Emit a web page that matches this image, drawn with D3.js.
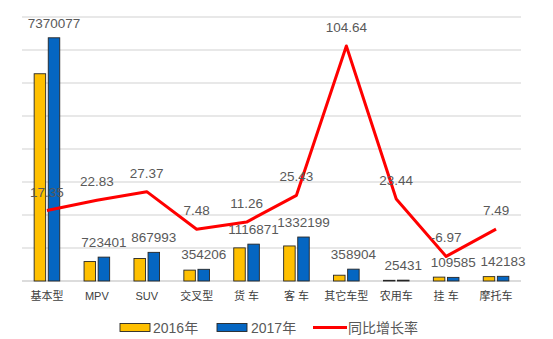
<!DOCTYPE html>
<html><head><meta charset="utf-8">
<script src="https://cdn.jsdelivr.net/npm/d3@7"></script>
<style>
html,body{margin:0;padding:0;background:#fff;}
svg text{font-family:"Liberation Sans","Noto Sans CJK SC",sans-serif;}
</style></head>
<body><svg id="c" width="553" height="339"></svg>
<script>
const categories = ["基本型","MPV","SUV","交叉型","货 车","客 车","其它车型","农用车","挂 车","摩托车"];
const values2016 = [6280424,588945,681474,329555,1003839,1062106,175383,20602,117795,132276];
const values2017 = [7370077,723401,867993,354206,1116871,1332199,358904,25431,109585,142183];
const growth = [17.35,22.83,27.37,7.48,11.26,25.43,104.64,23.44,-6.97,7.49];
const leftTicks = [0,1000000,2000000,3000000,4000000,5000000,6000000,7000000,8000000];
const legendLabels = ["2016年","2017年","同比增长率"];

const svg = d3.select("#c");
const L = 22, R = 521, T = 17, B = 281;
const x = d3.scaleBand().domain(categories).range([L, R]).padding(0);
const y = d3.scaleLinear().domain([0, 8000000]).range([B, T]);
const y2 = d3.scaleLinear().domain([-20, 120]).range([B, T]);

// gridlines
svg.append("g").selectAll("line").data(leftTicks).join("line")
  .attr("x1", L).attr("x2", R)
  .attr("y1", d => y(d)).attr("y2", d => y(d))
  .attr("stroke", d => d === 0 ? "#d0d0d0" : "#e0e0e0").attr("stroke-width", 1.3);

const bw = 11.5, gap = 1.3;
const cx = d => x(d) + x.bandwidth() / 2;

svg.append("g").selectAll("rect").data(categories).join("rect")
  .attr("x", d => cx(d) - gap - bw).attr("width", bw)
  .attr("y", (d, i) => y(values2016[i])).attr("height", (d, i) => B - y(values2016[i]))
  .attr("fill", "#FFC000").attr("stroke", "#262626").attr("stroke-width", 0.9);

svg.append("g").selectAll("rect").data(categories).join("rect")
  .attr("x", d => cx(d) + gap).attr("width", bw)
  .attr("y", (d, i) => y(values2017[i])).attr("height", (d, i) => B - y(values2017[i]))
  .attr("fill", "#0566C2").attr("stroke", "#262626").attr("stroke-width", 0.9);

// bar labels (2017)
svg.append("g").selectAll("text").data(categories).join("text")
  .attr("x", d => cx(d) + gap + bw / 2).attr("y", (d, i) => y(values2017[i]) - 10)
  .attr("text-anchor", "middle").attr("font-size", 13.5).attr("fill", "#595959")
  .text((d, i) => values2017[i]);

// growth line
const line = d3.line().x((d, i) => cx(categories[i])).y(d => y2(d));
svg.append("path").datum(growth).attr("d", line)
  .attr("fill", "none").attr("stroke", "#FF0000").attr("stroke-width", 3).attr("stroke-linejoin", "round");

svg.append("g").selectAll("text").data(growth).join("text")
  .attr("x", (d, i) => cx(categories[i])).attr("y", d => y2(d) - 14)
  .attr("text-anchor", "middle").attr("font-size", 13.5).attr("fill", "#595959")
  .text(d => d.toFixed(2));

// x axis labels
svg.append("g").selectAll("text").data(categories).join("text")
  .attr("x", d => cx(d)).attr("y", 300)
  .attr("text-anchor", "middle").attr("font-size", 11).attr("fill", "#404040")
  .text(d => d);

// legend
const lg = svg.append("g");
lg.append("rect").attr("x", 120).attr("y", 323.5).attr("width", 30).attr("height", 8)
  .attr("fill", "#FFC000").attr("stroke", "#262626").attr("stroke-width", 0.9);
lg.append("text").attr("x", 153).attr("y", 332.5).attr("font-size", 14).attr("fill", "#595959").text(legendLabels[0]);
lg.append("rect").attr("x", 217).attr("y", 323.5).attr("width", 30).attr("height", 8)
  .attr("fill", "#0566C2").attr("stroke", "#262626").attr("stroke-width", 0.9);
lg.append("text").attr("x", 251).attr("y", 332.5).attr("font-size", 14).attr("fill", "#595959").text(legendLabels[1]);
lg.append("line").attr("x1", 313).attr("x2", 347).attr("y1", 327.5).attr("y2", 327.5)
  .attr("stroke", "#FF0000").attr("stroke-width", 3);
lg.append("text").attr("x", 348).attr("y", 332.5).attr("font-size", 14).attr("fill", "#595959").text(legendLabels[2]);
</script></body></html>
